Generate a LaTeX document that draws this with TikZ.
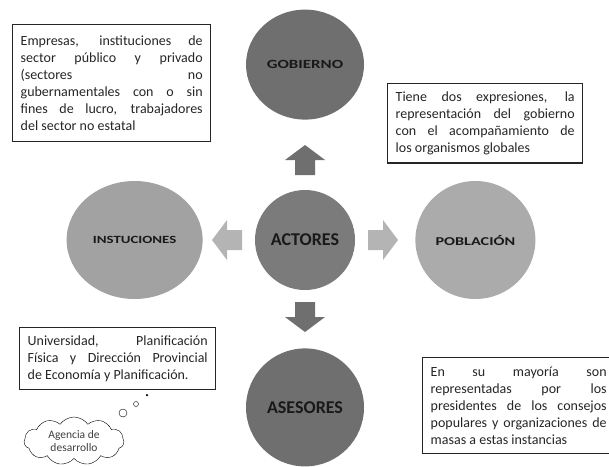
\documentclass[tikz,border=0pt]{standalone}
\usepackage{fontspec}
\setmainfont{Carlito}
\newfontfamily\anchafont{Carlito}[FakeStretch=1.35]
\usepackage{tikz}
\usetikzlibrary{positioning, shapes.geometric, shapes.symbols}

\definecolor{grisoscuro}{HTML}{6F6F6F}
\definecolor{grismedio}{HTML}{7B7B7B}
\definecolor{grisclaro}{HTML}{A2A2A2}
\definecolor{grispalido}{HTML}{ABABAB}
\definecolor{grisflecha}{HTML}{B4B4B4}

\hyphenpenalty=10000
\exhyphenpenalty=10000

\tikzset{
  actor/.style={ellipse, inner sep=0pt, text=black!90},
  cuadro/.style={draw=black!85, line width=1.4pt, fill=white, anchor=north west,
    text width=182pt, inner xsep=8pt, inner ysep=8pt, align=justify,
    font=\fontsize{14}{17}\selectfont, text=black!85},
  flecha/.pic={\fill[#1] (-10,15) -- (-10,0) -- (-20,0) -- (0,-15) -- (20,0) -- (10,0) -- (10,15) -- cycle;}
}

\begin{document}
\begin{tikzpicture}[x=1pt, y=-1pt]
\useasboundingbox (0,0) rectangle (609,466);

% Actores (centro)
\node (actores) at (305,240) [actor, minimum width=100pt, minimum height=100pt, fill=grismedio, font=\bfseries\fontsize{18}{20}\selectfont] {ACTORES};

% Los cuatro actores alrededor
\node (gobierno) [above=70pt of actores, actor, minimum width=118pt, minimum height=110pt, fill=grisoscuro, font=\anchafont\bfseries\fontsize{12.5}{14}\selectfont] {GOBIERNO};
\node (asesores) [below=58pt of actores, actor, minimum width=118pt, minimum height=118pt, fill=grisoscuro, font=\bfseries\fontsize{18}{20}\selectfont] {ASESORES};
\node (poblacion) [right=60pt of actores, actor, minimum width=120pt, minimum height=118pt, fill=grispalido, font=\anchafont\bfseries\fontsize{12}{14}\selectfont] {POBLACIÓN};
\node (instituciones) [left=52pt of actores, actor, minimum width=136pt, minimum height=118pt, fill=grisclaro, font=\anchafont\bfseries\fontsize{11}{13}\selectfont] {INSTUCIONES};

% Flechas de bloque
\pic at (305,160) {flecha=grisoscuro};
\pic[rotate=180] at (305,317) {flecha=grisoscuro};
\pic[rotate=90] at (227,240) {flecha=grisflecha};
\pic[rotate=-90] at (383,240) {flecha=grisflecha};

% Cuadros de texto
\node (empresas) at (12,24) [cuadro, inner ysep=11pt] {Empresas, instituciones de\linebreak sector público y privado\linebreak (sectores no\linebreak gubernamentales con o sin\linebreak fines de lucro, trabajadores\linebreak del sector no estatal};
\node (expresiones) at (387,83) [cuadro, text width=179pt] {Tiene dos expresiones, la\linebreak representación del gobierno\linebreak con el acompañamiento de\linebreak los organismos globales};
\node (universidad) at (19,327) [cuadro, text width=180pt] {Universidad, Planificación\linebreak Física y Dirección Provincial\linebreak de Economía y Planificación.};
\node (mayoria) at (422,357) [cuadro, text width=176pt, inner ysep=9pt] {En su mayoría son\linebreak representadas por los\linebreak presidentes de los consejos\linebreak populares y organizaciones de\linebreak masas a estas instancias};

% Nube de pensamiento
\node (agencia) at (74,441) [cloud, draw, fill=white, cloud puffs=11, cloud puff arc=110, aspect=2, inner sep=0pt, minimum width=100pt, minimum height=48pt, align=center, text=black!75, font=\fontsize{11.5}{13}\selectfont] {Agencia de\\desarrollo};
\node (burbuja1) at (123,413) [circle, draw, fill=white, inner sep=0pt, minimum size=8pt] {};
\node (burbuja2) at (136,404) [circle, draw, fill=white, inner sep=0pt, minimum size=5pt] {};
\node (burbuja3) at (147,395) [circle, fill=black, inner sep=0pt, minimum size=2.5pt] {};
\end{tikzpicture}
\end{document}
